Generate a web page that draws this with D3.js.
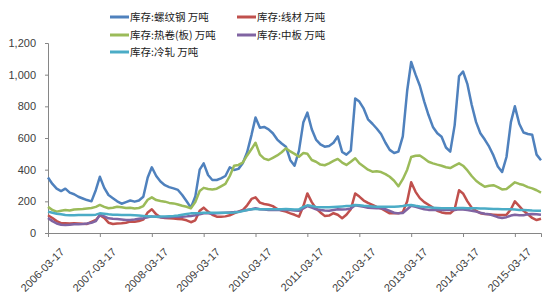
<!DOCTYPE html>
<html>
<head>
<meta charset="utf-8">
<script src="https://cdn.jsdelivr.net/npm/d3@7"></script>
<style>
  body { margin: 0; background: #fff; }
  svg { display: block; font-family: "Liberation Sans", Arial, sans-serif; }
</style>
</head>
<body>
<div id="chart"></div>
<script>
// monthly readings, first point 2006-03, last 2015-09
const startDate = new Date(2006, 2, 17)
const tickLabels = ["2006-03-17","2007-03-17","2008-03-17","2009-03-17","2010-03-17",
  "2011-03-17","2012-03-17","2013-03-17","2014-03-17","2015-03-17"]
const yTicks = [0, 200, 400, 600, 800, 1000, 1200]

const seriesNames = ["库存:螺纹钢 万吨", "库存:线材 万吨", "库存:热卷(板) 万吨", "库存:中板 万吨", "库存:冷轧 万吨"]
const seriesColors = ["#4f81bd", "#c0504d", "#9bbb59", "#8064a2", "#4bacc6"]

const rebar = [350,310,280,265,280,255,245,229,218,208,200,272,355,285,240,220,200,185,195,205,
  198,205,229,350,415,360,325,302,290,282,272,240,200,160,230,400,440,366,335,335,
  345,360,415,398,405,440,510,620,730,665,670,655,630,590,565,545,460,425,520,700,
  760,655,590,560,545,550,570,610,512,495,520,850,830,785,718,690,660,625,570,525,
  505,514,610,900,1080,1000,930,830,745,670,630,608,540,514,680,990,1020,940,810,700,
  630,590,545,490,420,385,480,700,800,690,635,625,620,495,460]
const wireRod = [112,95,75,62,61,60,62,60,58,57,70,82,112,95,65,57,60,61,65,72,
  71,76,85,130,150,118,100,95,93,92,88,87,80,68,80,140,160,135,115,103,
  103,105,112,124,135,145,175,215,225,192,183,178,170,152,142,135,124,115,103,170,
  250,195,155,130,108,110,125,115,93,115,150,250,230,205,190,178,165,155,140,124,
  124,124,132,200,320,260,220,195,178,160,140,130,125,124,150,270,250,200,160,140,
  125,120,118,116,114,114,115,150,200,170,140,118,95,82,90]
const hotRolled = [165,145,135,140,145,142,148,150,152,155,158,165,177,165,156,160,166,162,158,160,
  155,158,170,210,225,208,202,198,190,187,180,172,166,156,195,265,285,278,275,280,
  295,310,360,425,430,445,490,530,570,495,470,461,475,490,510,535,515,500,482,505,
  500,461,450,432,428,440,455,468,445,430,450,472,440,420,400,387,390,385,372,355,
  330,295,340,400,480,488,490,470,450,440,432,425,415,410,425,440,425,395,360,330,
  310,292,298,302,290,275,278,300,320,310,303,290,282,270,255]
const mediumPlate = [95,75,60,52,50,52,55,55,57,60,65,75,115,105,93,90,88,85,82,82,
  85,90,93,100,105,103,100,98,100,102,103,103,105,108,112,118,125,124,122,124,
  126,128,130,132,135,140,145,150,156,150,148,146,145,145,145,145,145,142,140,155,
  170,160,150,145,142,140,145,150,148,150,155,175,170,165,160,158,156,156,150,140,
  128,124,126,150,172,165,158,150,146,145,145,145,145,145,145,150,148,145,140,135,
  128,122,118,110,100,95,100,110,115,112,112,118,120,118,115]
const coldRolled = [135,128,122,118,114,112,112,113,114,114,114,116,124,122,118,116,115,114,114,114,
  112,110,108,106,104,103,104,105,106,107,110,115,120,124,125,126,128,128,128,128,
  128,128,128,129,132,138,145,150,152,150,150,150,150,150,150,152,150,148,150,165,
  175,170,165,162,162,162,164,166,168,170,172,177,175,172,170,168,166,166,166,166,
  166,168,170,175,177,172,168,165,162,160,158,156,156,156,157,158,158,157,156,156,
  155,154,153,152,152,150,150,150,148,146,145,144,142,141,140]

const allSeries = [rebar, wireRod, hotRolled, mediumPlate, coldRolled]
const dates = rebar.map((d, i) => d3.timeMonth.offset(startDate, i))
const parse = d3.timeParse("%Y-%m-%d")

const width = 550, height = 300
const plotLeft = 48, plotRight = 541, plotTop = 43, plotBottom = 233

const svg = d3.select("#chart").append("svg")
  .attr("width", width)
  .attr("height", height)

const x = d3.scaleTime()
  .domain([startDate, dates[dates.length - 1]])
  .range([plotLeft, plotRight])

const y = d3.scaleLinear()
  .domain([0, 1200])
  .range([plotBottom, plotTop])

// y axis
const yAxis = svg.append("g")
  .attr("transform", "translate(" + plotLeft + ",0)")
  .call(d3.axisLeft(y).tickValues(yTicks).tickSize(3).tickPadding(9).tickFormat(d3.format(",")))
yAxis.select(".domain").attr("stroke", "#868686")
yAxis.selectAll(".tick line").attr("stroke", "#868686")
yAxis.selectAll("text").attr("fill", "#404040").style("font-size", "11px")

// x axis
const xAxis = svg.append("g")
  .attr("transform", "translate(0," + plotBottom + ")")
  .call(d3.axisBottom(x).tickValues(tickLabels.map(parse)).tickSize(4).tickFormat(d3.timeFormat("%Y-%m-%d")))
xAxis.select(".domain").attr("stroke", "#868686")
xAxis.selectAll(".tick line").attr("stroke", "#868686")
xAxis.selectAll("text")
  .attr("fill", "#404040")
  .style("font-size", "11px")
  .style("text-anchor", "end")
  .attr("dy", "0.35em")
  .attr("transform", "translate(9,12)rotate(-45)")

// lines
const line = d3.line()
  .x((d, i) => x(dates[i]))
  .y(d => y(d))

allSeries.forEach((s, k) => {
  svg.append("path")
    .datum(s)
    .attr("fill", "none")
    .attr("stroke", seriesColors[k])
    .attr("stroke-width", 2.5)
    .attr("stroke-linejoin", "round")
    .attr("d", line)
})

// legend
const legendPos = [[110, 17], [237, 17], [110, 35], [237, 35], [110, 52]]
seriesNames.forEach((name, k) => {
  const g = svg.append("g")
    .attr("transform", "translate(" + legendPos[k][0] + "," + legendPos[k][1] + ")")
  g.append("line")
    .attr("x1", 0).attr("x2", 19)
    .attr("stroke", seriesColors[k])
    .attr("stroke-width", 3)
  g.append("text")
    .attr("x", 20)
    .attr("dy", "0.35em")
    .attr("fill", "#1a1a1a")
    .style("font-family", "'Noto Sans CJK SC', sans-serif")
    .style("font-size", "10.5px")
    .text(name)
})
</script>
</body>
</html>
